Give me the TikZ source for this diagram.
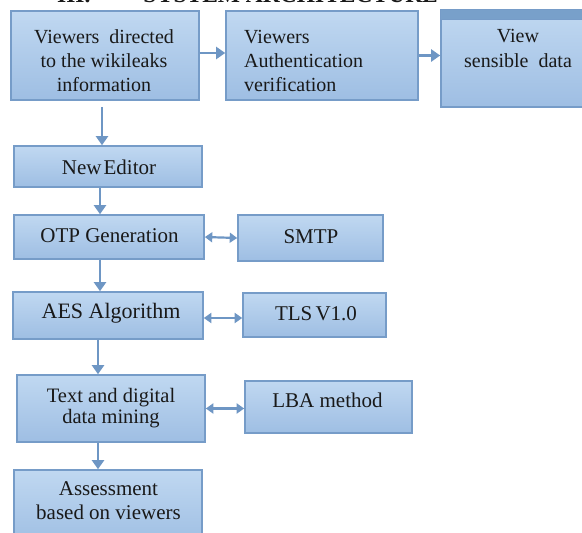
\documentclass[tikz,border=0pt]{standalone}
\usepackage{fontspec}
\setmainfont{Liberation Serif}
\usetikzlibrary{arrows.meta}
\definecolor{boxtop}{RGB}{192,216,241}
\definecolor{boxbot}{RGB}{158,190,227}
\definecolor{bord}{RGB}{118,156,200}
\definecolor{arrc}{RGB}{110,150,196}
\definecolor{bandc}{RGB}{120,160,202}
\definecolor{txtc}{RGB}{25,25,25}
\tikzset{
  box/.style={rectangle, draw=bord, line width=1.6pt, top color=boxtop, bottom color=boxbot, inner sep=0pt},
  lbl/.style={font=\fontsize{21}{24}\selectfont, text=txtc, inner sep=0pt, anchor=base, align=center},
  lblsm/.style={lbl, font=\fontsize{20}{24}\selectfont},
  arr/.style={draw=arrc, line width=2.2pt, -{Triangle[length=9pt,width=12pt]}},
  darr/.style={draw=arrc, line width=2.2pt, {Triangle[length=7.5pt,width=10pt]}-{Triangle[length=7.5pt,width=10pt]}},
}
\begin{document}
\begin{tikzpicture}[x=1pt,y=-1pt]
\useasboundingbox (0,0) rectangle (582,533);
% title (cut by the top edge)
\node[anchor=base west, inner sep=0pt, font=\fontsize{23.5}{26}\selectfont\bfseries, text=txtc] (title) at (57,2.5) {III.\hspace{53pt}SYSTEM ARCHITECTURE};
% boxes
\node[box, minimum width=188pt, minimum height=89pt] (b1) at (105,55.5) {};
\node[box, minimum width=192pt, minimum height=89pt] (b2) at (322,55.5) {};
\node[box, minimum width=154pt, minimum height=97pt] (b3) at (518,58.5) {};
\draw[draw=bord, fill=bandc, line width=1.2pt] (b3.north west) rectangle ([yshift=-10pt]b3.north east);
\node[box, minimum width=188pt, minimum height=41pt] (ne) at (108,166.5) {};
\node[box, minimum width=190pt, minimum height=44pt] (otp) at (109,237) {};
\node[box, minimum width=145pt, minimum height=46pt] (smtp) at (310.5,238) {};
\node[box, minimum width=190pt, minimum height=47pt] (aes) at (108,315.5) {};
\node[box, minimum width=143pt, minimum height=44pt] (tls) at (314.5,315) {};
\node[box, minimum width=188pt, minimum height=67pt] (tdm) at (111,408.5) {};
\node[box, minimum width=167pt, minimum height=52pt] (lba) at (328.5,407) {};
\node[box, minimum width=188pt, minimum height=75pt] (ass) at (108,507.5) {};
% texts (anchor=base sits on the last line of a multi-line text)
\node[lblsm] (t1) at (104,91) {Viewers\ \ directed\\to the wikileaks\\information};
\node[lblsm, anchor=base west, align=left] (t2) at (244,91) {Viewers\\Authentication\\verification};
\node[lblsm, font=\fontsize{20}{25}\selectfont] (t3) at (518,67) {View\\sensible\ \ data};
\node[lbl] (tne) at (109,174) {New\hspace{0.1em}Editor};
\node[lbl] (totp) at (109.5,242) {OTP Generation};
\node[lbl] (tsmtp) at (311,243) {SMTP};
\node[lbl, font=\fontsize{22}{24}\selectfont] (taes) at (111,318) {AES Algorithm};
\node[lbl] (ttls) at (316,320) {TLS\hspace{0.15em}V1.0};
\node[lbl, font=\fontsize{20.5}{21.5}\selectfont] (ttdm) at (111,423.5) {Text and digital\\data mining};
\node[lbl] (tlba) at (327.5,407) {LBA method};
\node[lbl] (tass) at (108.5,519) {Assessment\\based on viewers};
% connectors
\draw[arr] ([yshift=2.5pt]b1.east) -- ([yshift=2.5pt]b2.west);
\draw[arr] (b2.east) -- (b2.east -| b3.west);
\draw[arr, shorten <=6pt] ([xshift=-3pt]b1.south) -- ([xshift=-6pt]ne.north);
\draw[arr] ([xshift=-8pt]ne.south) -- ([xshift=-9pt]otp.north);
\draw[arr] ([xshift=-9pt]otp.south) -- ([xshift=-8pt]aes.north);
\draw[arr] ([xshift=-10pt]aes.south) -- ([xshift=-13pt]tdm.north);
\draw[arr] ([xshift=-13pt]tdm.south) -- ([xshift=-10pt]ass.north);
\draw[darr] (otp.east) -- (smtp.west);
\draw[darr] ([yshift=-2.5pt]aes.east) -- ([yshift=-2.5pt]aes.east -| tls.west);
\draw[darr] (tdm.east) -- (tdm.east -| lba.west);
\end{tikzpicture}
\end{document}
